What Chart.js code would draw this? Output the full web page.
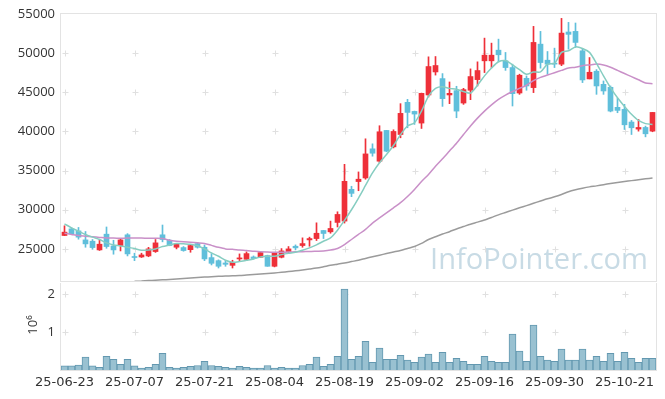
<!DOCTYPE html>
<html>
<head>
<meta charset="utf-8">
<script src="https://cdn.jsdelivr.net/npm/chart.js@4/dist/chart.umd.min.js"></script>
<style>
  body { margin: 0; background: #fff; }
  #wrap { position: relative; width: 665px; height: 399px; }
  canvas { position: absolute; left: 0; }
</style>
</head>
<body>
<div id="wrap">
  <canvas id="price" width="665" height="283" style="top:0"></canvas>
  <canvas id="vol" width="665" height="116" style="top:283px"></canvas>
</div>
<script>
// trading days (category axis, no gaps)
const dates = [
  '25-06-23','25-06-24','25-06-25','25-06-26','25-06-27','25-06-30',
  '25-07-01','25-07-02','25-07-03','25-07-04','25-07-07','25-07-08','25-07-09','25-07-10','25-07-11',
  '25-07-14','25-07-15','25-07-16','25-07-17','25-07-18','25-07-21','25-07-22','25-07-23','25-07-24','25-07-25',
  '25-07-28','25-07-29','25-07-30','25-07-31','25-08-01','25-08-04','25-08-05','25-08-06','25-08-07','25-08-08',
  '25-08-11','25-08-12','25-08-13','25-08-14','25-08-18','25-08-19','25-08-20','25-08-21','25-08-22',
  '25-08-25','25-08-26','25-08-27','25-08-28','25-08-29','25-09-01','25-09-02','25-09-03','25-09-04','25-09-05',
  '25-09-08','25-09-09','25-09-10','25-09-11','25-09-12','25-09-15','25-09-16','25-09-17','25-09-18','25-09-19',
  '25-09-22','25-09-23','25-09-24','25-09-25','25-09-26','25-09-29','25-09-30','25-10-01','25-10-02','25-10-10',
  '25-10-13','25-10-14','25-10-15','25-10-16','25-10-17','25-10-20','25-10-21','25-10-22','25-10-23','25-10-24','25-10-27'
];
const tickDates = ['25-06-23','25-07-07','25-07-21','25-08-04','25-08-19','25-09-02','25-09-16','25-09-30','25-10-21'];
const priceTicks = [25000, 30000, 35000, 40000, 45000, 50000, 55000];
const volTicks = [1, 2];

const open = [
  26710,27560,27300,26150,25980,24870,26880,25380,25430,26800,
  24000,23970,24100,24660,26800,26110,25210,25170,24900,25680,
  25210,23890,23500,23200,22900,23720,23670,23970,23930,24150,
  22780,23930,24660,25340,25430,26150,26320,27350,27180,28380,
  28550,32610,33600,34060,37780,36200,40130,38030,39610,43720,
  42560,41070,44660,47600,46750,44660,45210,43630,45260,46620,
  49020,49020,50380,49020,48160,44910,46790,45600,51150,49100,
  48700,48590,52700,52780,50300,46710,47690,46020,45640,43080,
  42820,41200,40300,40510,40040
];
const high = [
  27950,27700,27740,27220,26200,26100,27800,26100,26300,26950,
  24450,24450,25200,26200,28050,26200,25700,25300,25500,25800,
  25500,24400,23600,23500,23550,24360,24620,24100,24660,24200,
  24500,25040,25300,25510,26410,26500,28330,27350,28550,29740,
  35800,33000,34830,39060,38420,40730,40130,40210,43550,44100,
  42600,44900,49530,49570,47390,46320,45770,45510,47990,48890,
  51920,51280,51790,50090,48590,47310,47090,53420,52780,50210,
  50640,54440,53930,53850,50600,49440,47900,46450,45810,44230,
  43460,41410,41540,40680,42430
];
const low = [
  26700,26850,26240,25210,24950,24800,25080,24320,24740,24100,
  23500,23900,24000,24550,25900,25400,25000,24700,24570,25100,
  23500,22950,22560,22780,22560,23400,23600,23700,23900,22780,
  22700,23850,24500,24870,25210,25340,26070,26320,27000,27800,
  28300,31670,32430,33900,36840,36000,37400,37900,39190,40470,
  40900,40380,44400,47200,43200,43550,41750,43460,44060,45810,
  47520,48160,48890,47800,43250,44740,45260,44960,48080,47310,
  48160,48400,50510,50730,46240,46710,44740,44740,42500,42390,
  40250,39610,40040,39310,39960
];
const close = [
  27140,26920,26500,25640,25170,25600,25300,24870,26150,24360,
  23900,24230,25000,25770,26200,25430,25600,24790,25430,25210,
  23720,23160,22780,23030,23290,23850,24400,23760,24530,22780,
  24440,24740,25000,25130,25680,26320,27000,26970,27610,29400,
  33630,32090,33900,37130,37220,39960,37480,40000,42310,42430,
  42220,44870,48290,48420,44190,44870,42600,45340,47010,47780,
  49740,49740,49790,48160,44830,47180,45810,51370,48800,48590,
  48600,52560,52400,51370,46580,47560,45810,45170,42600,42690,
  40850,40470,40510,39700,42430
];
// moving averages
const ma5 = [
  28200,27690,27260,26840,26500,26200,25770,25510,25380,25210,
  25040,24830,24870,25000,25300,25500,25700,25650,25600,25400,
  25000,24490,24060,23550,23290,23380,23550,23720,23970,24060,
  24060,24270,24440,24570,24830,25130,25510,25980,26410,27390,
  28650,30000,31500,33100,34700,36000,37050,38200,39600,40700,
  41100,42600,44500,45500,45700,45500,45400,45100,44900,45900,
  47100,48100,48900,49050,48500,47900,47300,47600,47600,48600,
  48700,50100,50300,50800,50600,50100,48700,47100,45600,44300,
  43200,42200,41400,41000,40900
];
const ma20 = [
  27000,26850,26700,26620,26540,26470,26400,26380,26370,26380,
  26400,26380,26370,26350,26320,26100,25980,25900,25850,25780,
  25700,25450,25200,25000,24950,24850,24790,24700,24620,24590,
  24570,24570,24600,24620,24650,24660,24700,24740,24850,25050,
  25550,26200,26850,27500,28300,28950,29600,30250,30900,31700,
  32600,33600,34500,35550,36500,37500,38500,39600,40700,41700,
  42600,43400,44100,44650,45100,45500,45900,46500,46900,47200,
  47500,47800,48100,48200,48400,48500,48600,48500,48200,47800,
  47400,47000,46600,46200,46100
];
const ma120 = [
  20250,20310,20370,20430,20490,20550,20600,20660,20720,20780,
  20840,20900,20950,21000,21050,21100,21160,21220,21280,21340,
  21400,21450,21500,21530,21570,21600,21660,21720,21780,21850,
  21930,22010,22100,22200,22300,22420,22550,22720,22900,23050,
  23200,23380,23550,23780,24000,24200,24400,24600,24800,25050,
  25300,25700,26200,26550,26900,27200,27550,27850,28150,28420,
  28700,29020,29350,29650,29950,30250,30530,30830,31120,31400,
  31650,31950,32300,32550,32750,32920,33050,33200,33350,33480,
  33600,33720,33840,33950,34060
];
// volume in millions of shares
const volume = [
  0.11,0.11,0.13,0.34,0.11,0.07,0.36,0.28,0.15,0.28,
  0.11,0.05,0.07,0.15,0.44,0.07,0.05,0.07,0.10,0.12,
  0.23,0.12,0.10,0.07,0.05,0.10,0.07,0.05,0.05,0.12,
  0.05,0.07,0.05,0.05,0.12,0.15,0.34,0.10,0.15,0.36,
  2.14,0.28,0.36,0.76,0.20,0.58,0.28,0.28,0.39,0.26,
  0.20,0.34,0.42,0.20,0.47,0.20,0.31,0.23,0.15,0.15,
  0.36,0.23,0.20,0.20,0.95,0.50,0.23,1.19,0.36,0.26,
  0.23,0.55,0.26,0.26,0.55,0.26,0.36,0.23,0.44,0.23,
  0.47,0.31,0.20,0.31,0.31
];

const upColor = '#ee3039';
const downColor = '#60bfdb';
const candleColors = close.map((c, i) => c >= open[i] ? upColor : downColor);

Chart.defaults.font.family = "'Open Sans', sans-serif";
Chart.defaults.font.size = 12;
Chart.defaults.color = '#333';
Chart.defaults.animation = false;

// frame, small "+" grid marks, watermark and axis title
const framePlugin = {
  id: 'frame',
  beforeDatasetsDraw(chart, args, opts) {
    const { ctx, chartArea: a, scales } = chart;
    ctx.save();
    ctx.strokeStyle = '#e3e3e3';
    ctx.lineWidth = 1;
    ctx.strokeRect(a.left - 0.5, a.top - 0.5, a.right - a.left + 1, a.bottom - a.top + 1);

    ctx.strokeStyle = '#e0e0e0';
    ctx.beginPath();
    tickDates.forEach(d => {
      const x = Math.round(scales.x.getPixelForValue(dates.indexOf(d))) + 0.5;
      opts.marks.forEach(v => {
        const y = Math.round(scales.y.getPixelForValue(v)) + 0.5;
        ctx.moveTo(x - 3, y); ctx.lineTo(x + 3, y);
        ctx.moveTo(x, y - 3); ctx.lineTo(x, y + 3);
      });
    });
    ctx.stroke();

    if (opts.watermark) {
      let size = 30;
      ctx.font = size + "px 'Open Sans', sans-serif";
      size = size * 218 / ctx.measureText(opts.watermark).width;
      ctx.font = size + "px 'Open Sans', sans-serif";
      ctx.fillStyle = '#c8dbe5';
      ctx.textAlign = 'right';
      ctx.textBaseline = 'alphabetic';
      ctx.fillText(opts.watermark, 648, 269);
    }
    if (opts.title) {
      ctx.translate(33, 42);
      ctx.rotate(-Math.PI / 2);
      ctx.font = "13px 'Open Sans', sans-serif";
      ctx.fillStyle = '#333';
      ctx.textAlign = 'center';
      ctx.textBaseline = 'middle';
      ctx.fillText(opts.title, 0, 0);
    }
    ctx.restore();
  }
};

// keep the plot area exactly where the padding puts it
const fixY = s => { s.width = 61; s.paddingTop = 0; s.paddingBottom = 0; };

const lineDs = (label, data, color) => ({
  type: 'line', label, data, borderColor: color, borderWidth: 1.5,
  pointRadius: 0, tension: 0.25, fill: false, order: 0
});

new Chart(document.getElementById('price'), {
  type: 'bar',
  data: {
    labels: dates,
    datasets: [
      lineDs('MA5', ma5, '#86cdc1'),
      lineDs('MA20', ma20, '#c990c8'),
      lineDs('MA120', ma120, '#9b9b9b'),
      {
        label: 'body', data: open.map((o, i) => [o, close[i]]),
        backgroundColor: candleColors, barThickness: 5, grouped: false,
        minBarLength: 1, borderWidth: 0, order: 1
      },
      {
        label: 'wick', data: low.map((l, i) => [l, high[i]]),
        backgroundColor: candleColors, barThickness: 1, grouped: false,
        borderWidth: 0, order: 2
      }
    ]
  },
  options: {
    responsive: false,
    devicePixelRatio: 1,
    layout: { autoPadding: false, padding: { top: 14, bottom: 2, left: 0, right: 9 } },
    plugins: {
      legend: { display: false },
      tooltip: { enabled: false },
      frame: { marks: [25000, 30000, 35000, 40000, 45000, 50000], watermark: 'InfoPointer.com' }
    },
    scales: {
      x: { display: false, offset: true },
      y: {
        min: 20900, max: 55000,
        grid: { display: false, drawTicks: false },
        border: { display: false },
        ticks: { padding: 6, font: { size: 13 }, callback: v => String(v) },
        afterBuildTicks: s => { s.ticks = priceTicks.map(v => ({ value: v })); },
        afterFit: fixY
      }
    }
  },
  plugins: [framePlugin]
});

new Chart(document.getElementById('vol'), {
  type: 'bar',
  data: {
    labels: dates,
    datasets: [{
      label: 'volume', data: volume,
      backgroundColor: '#99c1d1', borderColor: '#6398b0', borderWidth: 1,
      borderSkipped: 'bottom', categoryPercentage: 1, barPercentage: 1
    }]
  },
  options: {
    responsive: false,
    devicePixelRatio: 1,
    layout: { autoPadding: false, padding: { top: 0, bottom: 0, left: 0, right: 9 } },
    plugins: {
      legend: { display: false },
      tooltip: { enabled: false },
      frame: { marks: volTicks, title: '10\u2076' }
    },
    scales: {
      x: {
        grid: { display: false, drawTicks: false },
        border: { display: false },
        ticks: { padding: 5, maxRotation: 0, autoSkip: false,
          font: { family: "'DejaVu Sans', sans-serif", size: 13 },
          callback: function (v) { return this.getLabelForValue(v); } },
        afterBuildTicks: s => { s.ticks = tickDates.map(d => ({ value: dates.indexOf(d) })); },
        afterFit: s => { s.height = 29; s.paddingLeft = 0; s.paddingRight = 0; }
      },
      y: {
        min: 0, max: 2.3,
        grid: { display: false, drawTicks: false },
        border: { display: false },
        ticks: { padding: 6, font: { size: 13 } },
        afterBuildTicks: s => { s.ticks = volTicks.map(v => ({ value: v })); },
        afterFit: fixY
      }
    }
  },
  plugins: [framePlugin]
});
</script>
</body>
</html>
